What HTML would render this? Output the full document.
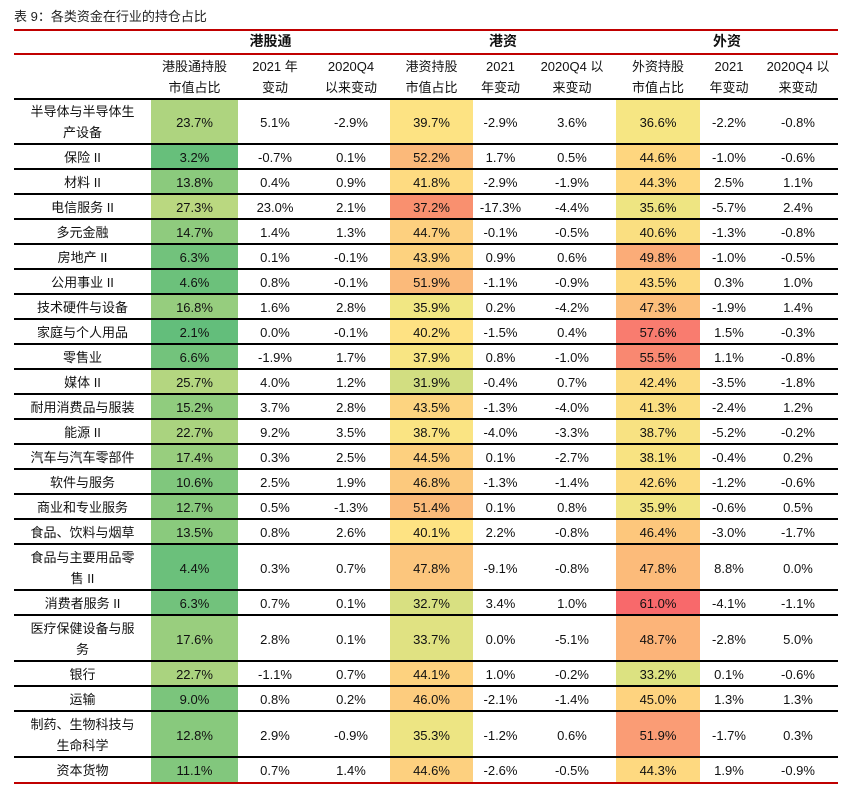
<!DOCTYPE html>
<html><head><meta charset="utf-8">
<style>
body{margin:0;background:#fff;width:846px;height:788px;position:relative;overflow:hidden;font-family:"Liberation Sans","Noto Sans CJK SC",sans-serif;color:#111;}
.t{position:absolute;left:14px;top:6px;font-size:13px;color:#222;}
.c{position:absolute;display:flex;align-items:center;justify-content:center;text-align:center;font-size:13px;line-height:21px;box-sizing:border-box;}
.l{position:absolute;left:14px;width:824px;}
</style></head><body>
<div class="t">表 9：各类资金在行业的持仓占比</div>
<div id="g"></div>
<script>
var X=[14,151,238,312,390,473,528,616,700,758,838];
var data=[
["半导体与半导体生产设备",23.7,"5.1%","-2.9%",39.7,"-2.9%","3.6%",36.6,"-2.2%","-0.8%",1],
["保险 II",3.2,"-0.7%","0.1%",52.2,"1.7%","0.5%",44.6,"-1.0%","-0.6%"],
["材料 II",13.8,"0.4%","0.9%",41.8,"-2.9%","-1.9%",44.3,"2.5%","1.1%"],
["电信服务 II",27.3,"23.0%","2.1%",37.2,"-17.3%","-4.4%",35.6,"-5.7%","2.4%"],
["多元金融",14.7,"1.4%","1.3%",44.7,"-0.1%","-0.5%",40.6,"-1.3%","-0.8%"],
["房地产 II",6.3,"0.1%","-0.1%",43.9,"0.9%","0.6%",49.8,"-1.0%","-0.5%"],
["公用事业 II",4.6,"0.8%","-0.1%",51.9,"-1.1%","-0.9%",43.5,"0.3%","1.0%"],
["技术硬件与设备",16.8,"1.6%","2.8%",35.9,"0.2%","-4.2%",47.3,"-1.9%","1.4%"],
["家庭与个人用品",2.1,"0.0%","-0.1%",40.2,"-1.5%","0.4%",57.6,"1.5%","-0.3%"],
["零售业",6.6,"-1.9%","1.7%",37.9,"0.8%","-1.0%",55.5,"1.1%","-0.8%"],
["媒体 II",25.7,"4.0%","1.2%",31.9,"-0.4%","0.7%",42.4,"-3.5%","-1.8%"],
["耐用消费品与服装",15.2,"3.7%","2.8%",43.5,"-1.3%","-4.0%",41.3,"-2.4%","1.2%"],
["能源 II",22.7,"9.2%","3.5%",38.7,"-4.0%","-3.3%",38.7,"-5.2%","-0.2%"],
["汽车与汽车零部件",17.4,"0.3%","2.5%",44.5,"0.1%","-2.7%",38.1,"-0.4%","0.2%"],
["软件与服务",10.6,"2.5%","1.9%",46.8,"-1.3%","-1.4%",42.6,"-1.2%","-0.6%"],
["商业和专业服务",12.7,"0.5%","-1.3%",51.4,"0.1%","0.8%",35.9,"-0.6%","0.5%"],
["食品、饮料与烟草",13.5,"0.8%","2.6%",40.1,"2.2%","-0.8%",46.4,"-3.0%","-1.7%"],
["食品与主要用品零售 II",4.4,"0.3%","0.7%",47.8,"-9.1%","-0.8%",47.8,"8.8%","0.0%",1],
["消费者服务 II",6.3,"0.7%","0.1%",32.7,"3.4%","1.0%",61.0,"-4.1%","-1.1%"],
["医疗保健设备与服务",17.6,"2.8%","0.1%",33.7,"0.0%","-5.1%",48.7,"-2.8%","5.0%",1],
["银行",22.7,"-1.1%","0.7%",44.1,"1.0%","-0.2%",33.2,"0.1%","-0.6%"],
["运输",9.0,"0.8%","0.2%",46.0,"-2.1%","-1.4%",45.0,"1.3%","1.3%"],
["制药、生物科技与生命科学",12.8,"2.9%","-0.9%",35.3,"-1.2%","0.6%",51.9,"-1.7%","0.3%",1],
["资本货物",11.1,"0.7%","1.4%",44.6,"-2.6%","-0.5%",44.3,"1.9%","-0.9%"]
];
function hx(h){return [parseInt(h.substr(1,2),16),parseInt(h.substr(3,2),16),parseInt(h.substr(5,2),16)];}
function sc(v,st){if(v<=st[0][0])return st[0][1];for(var i=1;i<st.length;i++){if(v<=st[i][0]){var a=st[i-1],b=st[i],t=(v-a[0])/(b[0]-a[0]),A=hx(a[1]),B=hx(b[1]);return "rgb("+A.map(function(x,k){return Math.round(x+(B[k]-x)*t)}).join(",")+")";}}return st[st.length-1][1];}
var S1=[[2.1,"#63be7b"],[27.3,"#bad880"]];
var S2=[[31.9,"#d2de81"],[36,"#f2e783"],[40,"#fee383"],[44,"#fdd27f"],[52.2,"#fbb97a"]];
var S3=[[33.2,"#dce281"],[36.6,"#f6e683"],[44.3,"#fed980"],[47.8,"#fcbb7a"],[51.9,"#fa9c75"],[61,"#f8696b"]];
var h="";
function cell(ci,y,hh,txt,bg,extra){h+='<div class="c" style="left:'+X[ci]+'px;top:'+y+'px;width:'+(X[ci+1]-X[ci])+'px;height:'+hh+'px;'+(bg?'background:'+bg+';':'')+(extra||'')+'">'+txt+'</div>';}
function line(y,w,col){h+='<div class="l" style="top:'+y+'px;height:'+w+'px;background:'+col+'"></div>';}
h+='<div class="c" style="left:151px;top:29px;width:239px;height:25px;font-weight:bold;font-size:14px">港股通</div>';
h+='<div class="c" style="left:390px;top:29px;width:226px;height:25px;font-weight:bold;font-size:14px">港资</div>';
h+='<div class="c" style="left:616px;top:29px;width:222px;height:25px;font-weight:bold;font-size:14px">外资</div>';
var hd=["港股通持股<br>市值占比","2021 年<br>变动","2020Q4<br>以来变动","港资持股<br>市值占比","2021<br>年变动","2020Q4 以<br>来变动","外资持股<br>市值占比","2021<br>年变动","2020Q4 以<br>来变动"];
for(var i=0;i<9;i++)cell(i+1,55,44,hd[i]);
var H=[];data.forEach(function(r){H.push(r[10]?46:25);});
var y=99;
data.forEach(function(r,k){var hh=H[k];
 cell(0,y,hh,r[0],null,'padding:0 13px;');
 for(var i=1;i<10;i++){var v=r[i],bg=null,t=v;
  if(i==1){bg=sc(v,S1);t=v.toFixed(1)+"%";}
  if(i==4){bg=(v==37.2)?"#f9906f":sc(v,S2);t=v.toFixed(1)+"%";}
  if(i==7){bg=sc(v,S3);t=v.toFixed(1)+"%";}
  cell(i,y,hh,t,bg);}
 y+=hh;});
line(29,1.5,"#c00000");line(53,1.5,"#c00000");
var yy=98;line(yy,2,"#000");
data.forEach(function(r,k){yy+=H[k];if(k<data.length-1)line(yy-1,2,"#000");});
line(782,2,"#c00000");
document.getElementById("g").innerHTML=h;
</script>
</body></html>
